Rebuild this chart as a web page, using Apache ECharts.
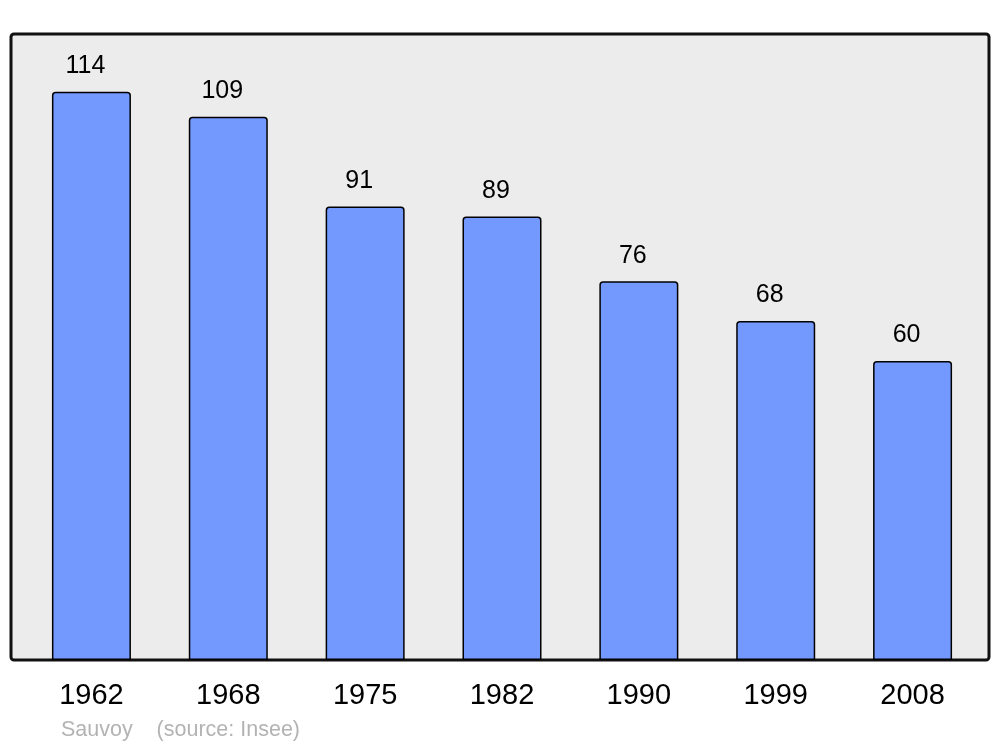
<!DOCTYPE html>
<html><head><meta charset="utf-8">
<script src="https://cdn.jsdelivr.net/npm/echarts@6/dist/echarts.min.js"></script>
<style>html,body{margin:0;padding:0;background:#fff}#c{width:1000px;height:747px}</style>
</head><body><div id="c"></div>
<script>
const years = ['1962','1968','1975','1982','1990','1999','2008'];
const population = [114,109,91,89,76,68,60];
const sourceNote = 'Sauvoy    (source: Insee)';

const chart = echarts.init(document.getElementById('c'), null, {renderer:'canvas'});
chart.setOption({
  animation:false,
  backgroundColor:'#fff',
  grid:{left:23, right:19, top:37, bottom:87},
  graphic:[
    {type:'rect', shape:{x:11,y:34,width:978,height:626,r:3}, style:{fill:'#ececec', stroke:'#111', lineWidth:3}, z:0},
    {type:'text', left:61, top:719, style:{text:sourceNote, fill:'#b3b3b3', font:'21.5px "Liberation Sans", Arial, sans-serif'}, z:10}
  ],
  xAxis:{type:'category', data:years, axisLine:{show:false}, axisTick:{show:false},
    axisLabel:{color:'#000', fontSize:29, fontFamily:'"Liberation Sans", Arial, sans-serif', margin:21}},
  yAxis:{type:'value', min:0, max:125, show:false, splitLine:{show:false}},
  series:[{type:'bar', data:population, barWidth:79,
    itemStyle:{color:'#7399ff', borderColor:'#000', borderWidth:1.5, borderRadius:[3,3,0,0]},
    label:{show:true, position:'top', distance:13, offset:[-6,0], color:'#000', fontSize:25, fontFamily:'"Liberation Sans", Arial, sans-serif'}
  }]
});
</script></body></html>
